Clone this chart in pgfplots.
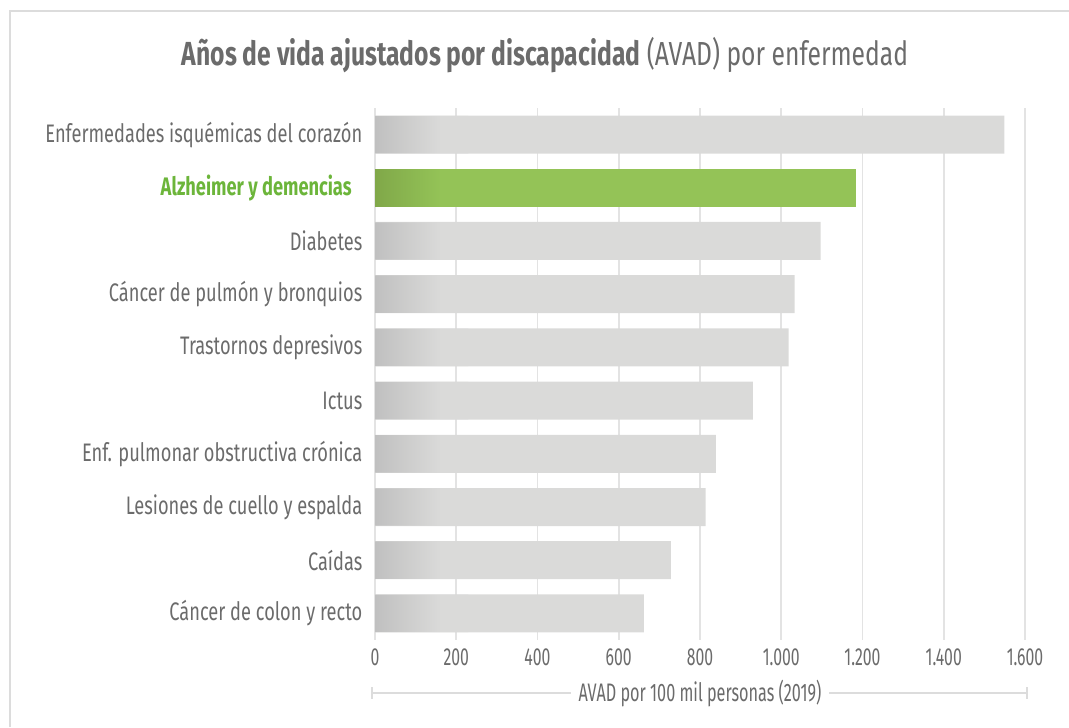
\documentclass[border=0pt]{standalone}
\usepackage{fontspec}
\setmainfont{Fira Sans}[FakeStretch=0.72]
\newfontfamily\titlefont{Fira Sans}[FakeStretch=0.74]
\newfontfamily\numfont{Fira Sans}[FakeStretch=0.64]
\usepackage{pgfplots}
\pgfplotsset{compat=1.18}

\definecolor{txtgray}{HTML}{6B6B6B}
\definecolor{bargray}{HTML}{DADAD9}
\definecolor{gradgray}{HTML}{C0C0C0}
\definecolor{bargreen}{HTML}{94C357}
\definecolor{gradgreen}{HTML}{80A849}
\definecolor{lblgreen}{HTML}{6CB53A}
\definecolor{gridgray}{HTML}{E3E3E3}
\definecolor{framegray}{HTML}{DCDCDC}

% fades that reach the bar colour before their right end
\pgfdeclarehorizontalshading{grayfade}{100bp}{color(0bp)=(gradgray); color(25bp)=(gradgray);
  color(60bp)=(bargray); color(100bp)=(bargray)}
\pgfdeclarehorizontalshading{greenfade}{100bp}{color(0bp)=(gradgreen); color(25bp)=(gradgreen);
  color(60bp)=(bargreen); color(100bp)=(bargreen)}

\def\px{0.75pt}

\begin{document}
\begin{tikzpicture}
\useasboundingbox (0,0) rectangle (1069*\px,727*\px);
% frame (top and left edges only, as in the crop)
\draw[framegray, line width=1.5pt] (10*\px,0) -- (10*\px,716*\px) -- (1069*\px,716*\px);

\node[text=txtgray, font=\titlefont\fontsize{25}{29}\selectfont] at (545*\px,672*\px)
  {\textbf{Años de vida ajustados por discapacidad} (AVAD) por enfermedad};

\begin{axis}[
  at={(375*\px,87*\px)}, anchor=south west,
  scale only axis, width=650*\px, height=532*\px,
  xmin=0, xmax=1600, xtick={0,200,...,1600},
  ymin=-0.5, ymax=9.5, y dir=reverse, ytick={0,...,9},
  yticklabels={Enfermedades isquémicas del corazón,
    {\color{lblgreen}\bfseries Alzheimer y demencias\kern8pt},
    Diabetes, Cáncer de pulmón y bronquios, Trastornos depresivos,
    Ictus, Enf. pulmonar obstructiva crónica, Lesiones de cuello y espalda,
    Caídas, Cáncer de colon y recto},
  axis line style={draw=none}, major tick length=0pt,
  xmajorgrids, grid style={gridgray, line width=1.2pt},
  tick label style={text=txtgray, font=\fontsize{19}{21}\selectfont},
  xticklabel style={yshift=-3pt, font=\numfont\fontsize{18.5}{20}\selectfont},
  yticklabel style={anchor=east, xshift=-6pt},
  /pgf/number format/.cd, 1000 sep={.}, assume math mode=true,
]
\addplot[xbar, bar width=28.5pt, bar shift=0pt, draw=none, fill=bargray]
  coordinates {(1549,0) (1097,2) (1033,3) (1018,4) (930,5)
               (839,6) (814,7) (728,8) (662,9)};
\addplot[xbar, bar width=28.5pt, bar shift=0pt, draw=none, fill=bargreen]
  coordinates {(1183,1)};
% left-edge shading of each bar
\addplot[xbar, bar width=28.1pt, bar shift=0pt, draw=none, shading=grayfade]
  coordinates {(230,0) (230,2) (230,3) (230,4) (230,5)
               (230,6) (230,7) (230,8) (230,9)};
\addplot[xbar, bar width=28.1pt, bar shift=0pt, draw=none, shading=greenfade]
  coordinates {(230,1)};
\end{axis}

% x axis title with bracket line
\draw[framegray, line width=1pt] (372*\px,34*\px) -- (1027*\px,34*\px);
\draw[framegray, line width=1.5pt] (372*\px,28*\px) -- (372*\px,40*\px);
\draw[framegray, line width=1.5pt] (1027*\px,28*\px) -- (1027*\px,40*\px);
\node[fill=white, inner xsep=6pt, text=txtgray, font=\numfont\fontsize{19}{21}\selectfont]
  at (700*\px,34*\px) {AVAD por 100 mil personas (2019)};
\end{tikzpicture}
\end{document}
